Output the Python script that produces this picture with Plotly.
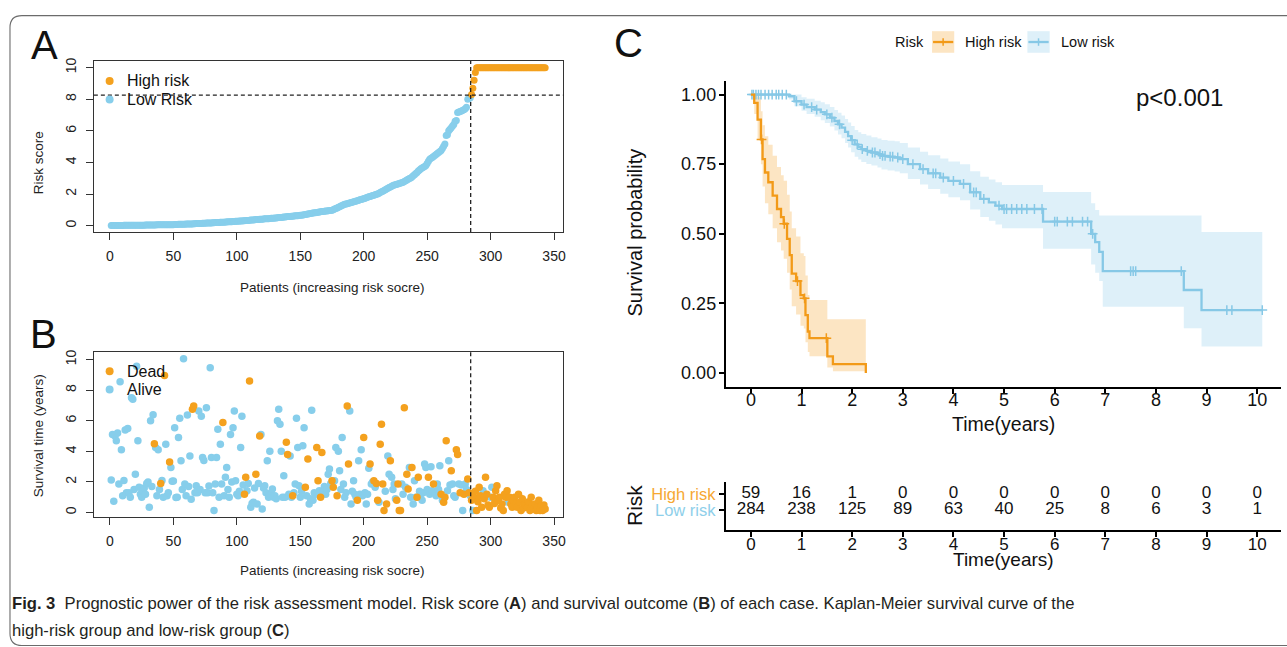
import plotly.graph_objects as go

W, H = 1287, 647
def fx(px): return px / W
def fy(py): return 1 - py / H

FONT = "Liberation Sans, Arial, sans-serif"
CAPFONT = "Liberation Sans Narrow, Arial Narrow, Liberation Sans, sans-serif"
ORANGE = "#F4A11E"
BLUE = "#87CEEB"
KM_OR = "#F29A18"
KM_BL = "#86C8E6"

# ---------------- Panel A: risk score per patient (sorted) ----------------
risk_low = [
    0.00,0.00,0.00,0.01,0.01,0.01,0.01,0.01,0.01,0.01,0.02,0.02,0.02,0.02,0.02,0.02,0.02,0.02,0.03,0.03,
    0.03,0.03,0.03,0.03,0.03,0.03,0.03,0.04,0.04,0.04,0.04,0.04,0.04,0.04,0.04,0.04,0.05,0.05,0.05,0.05,
    0.05,0.05,0.05,0.05,0.05,0.06,0.06,0.06,0.06,0.06,0.07,0.07,0.07,0.08,0.08,0.08,0.09,0.09,0.09,0.10,
    0.10,0.10,0.11,0.11,0.11,0.12,0.12,0.13,0.13,0.13,0.14,0.14,0.15,0.15,0.15,0.16,0.16,0.17,0.17,0.17,
    0.18,0.18,0.19,0.19,0.20,0.20,0.21,0.21,0.22,0.22,0.23,0.23,0.24,0.24,0.25,0.25,0.26,0.26,0.27,0.27,
    0.28,0.29,0.29,0.30,0.31,0.31,0.32,0.33,0.33,0.34,0.35,0.35,0.36,0.37,0.38,0.38,0.39,0.40,0.41,0.41,
    0.42,0.43,0.43,0.44,0.44,0.45,0.46,0.47,0.47,0.48,0.49,0.50,0.51,0.51,0.52,0.53,0.54,0.55,0.56,0.57,
    0.58,0.58,0.59,0.60,0.61,0.62,0.62,0.63,0.64,0.65,0.66,0.68,0.69,0.71,0.72,0.74,0.75,0.77,0.78,0.80,
    0.81,0.82,0.83,0.85,0.86,0.87,0.89,0.90,0.91,0.92,0.93,0.94,0.95,0.96,0.97,1.01,1.05,1.09,1.12,1.16,
    1.20,1.24,1.28,1.32,1.35,1.37,1.39,1.41,1.43,1.46,1.48,1.51,1.53,1.56,1.58,1.60,1.63,1.65,1.68,1.70,
    1.73,1.76,1.79,1.82,1.84,1.87,1.90,1.92,1.95,1.98,2.00,2.05,2.09,2.14,2.18,2.23,2.27,2.32,2.36,2.41,
    2.45,2.50,2.54,2.57,2.59,2.62,2.64,2.67,2.70,2.72,2.75,2.80,2.84,2.89,2.93,2.98,3.02,3.07,3.15,3.22,
    3.30,3.37,3.45,3.52,3.60,3.65,3.70,3.75,3.80,3.93,4.07,4.20,4.26,4.32,4.38,4.44,4.50,4.56,4.63,4.69,
    4.75,4.89,5.03,5.17,5.70,5.75,6.00,6.10,6.20,6.30,6.40,6.60,6.65,7.16,7.20,7.23,7.26,7.30,7.33,7.40,
    7.50,8.00,8.05,8.10,
]
risk_high = [
    8.30,8.70,9.20,9.70,10.0,10.0,10.0,10.0,10.0,10.0,10.0,10.0,10.0,10.0,10.0,10.0,10.0,10.0,10.0,10.0,
    10.0,10.0,10.0,10.0,10.0,10.0,10.0,10.0,10.0,10.0,10.0,10.0,10.0,10.0,10.0,10.0,10.0,10.0,10.0,10.0,
    10.0,10.0,10.0,10.0,10.0,10.0,10.0,10.0,10.0,10.0,10.0,10.0,10.0,10.0,10.0,10.0,10.0,10.0,10.0,
]
risk_cutoff = 8.26
split_index = 284.3

# ---------------- Panel B: survival time and status per patient ----------------
b_time = [
    2.13,5.1,0.74,5.0,4.7,5.2,1.87,8.55,4.1,1.1,
    2.1,5.4,1.3,5.5,1.3,1.0,7.5,7.4,1.5,2.5,
    9.57,4.7,1.65,1.2,1.0,1.4,1.6,1.2,1.9,2.0,
    0.35,6.0,1.7,6.4,4.5,4.25,1.1,4.1,1.5,1.9,
    2.1,1.0,8.96,4.47,1.1,1.3,3.3,2.95,2.04,2.07,
    5.55,0.98,1.0,4.9,6.16,3.38,1.5,10.06,1.87,1.1,
    6.38,1.7,3.7,0.87,6.75,6.96,1.3,1.75,1.3,6.64,
    1.5,6.3,3.6,3.4,1.3,6.85,1.3,1.74,9.46,3.6,
    1.3,0.13,1.87,3.6,5.45,1.0,4.47,1.87,5.88,1.1,
    2.3,2.95,1.5,1.0,5.1,2.0,5.55,6.64,2.08,1.2,
    1.1,1.4,4.25,6.3,1.8,1.2,2.3,1.43,1.9,8.6,
    0.35,0.6,0.67,1.6,2.5,0.56,1.9,5.0,5.1,0.24,
    1.6,1.75,1.3,3.38,1.0,4.0,1.2,1.54,1.0,1.1,
    0.9,6.0,6.75,5.77,4.0,1.0,2.4,1.0,4.6,3.8,
    1.2,3.7,1.0,1.1,1.3,1.87,6.16,4.25,1.76,1.0,
    1.4,4.36,5.55,1.65,1.1,3.5,0.56,0.9,6.68,0.8,
    1.3,1.2,4.25,2.08,1.43,1.0,3.92,1.43,1.7,1.2,
    1.5,2.5,2.85,1.9,2.08,1.65,2.08,4.25,1.1,4.0,
    2.73,1.5,4.9,1.87,1.0,1.3,6.96,3.17,6.64,0.56,
    1.4,2.08,1.2,1.0,0.8,3.38,1.2,4.1,1.1,4.9,
    1.3,0.56,1.2,2.9,3.17,1.87,2.0,2.08,1.65,1.9,
    0.8,0.67,4.47,5.77,1.87,0.13,1.4,0.56,3.7,2.5,
    3.38,2.3,1.5,1.87,0.9,0.8,1.87,0.13,0.13,1.87,
    1.2,6.85,1.65,2.5,1.54,2.95,1.0,2.95,0.56,2.08,
    1.0,1.0,2.3,1.4,1.2,0.8,1.3,3.17,2.95,1.5,
    2.3,1.2,3.0,1.43,1.87,1.3,1.1,1.87,1.5,3.06,
    1.2,0.8,0.67,1.0,4.7,1.43,3.38,1.8,2.73,1.87,
    1.1,1.0,4.1,3.8,1.87,1.3,1.8,0.13,1.2,1.87,
    1.5,2.2,1.3,1.1,0.8,0.13,1.0,1.4,0.13,0.7,
    1.65,1.1,0.35,1.43,0.9,2.3,1.2,0.5,0.35,1.0,
    1.65,1.0,0.6,1.43,1.75,0.8,1.0,0.3,0.56,0.13,
    1.2,1.0,1.43,0.67,1.0,0.56,0.35,0.8,1.0,0.56,
    0.35,1.2,0.67,0.13,0.9,0.3,0.56,0.45,0.35,0.7,
    0.13,1.0,0.5,0.25,0.56,0.13,0.35,0.8,0.13,0.45,
    0.13,0.5,0.24,
]
b_dead = [
    0,0,0,0,0,0,0,0,0,0,
    0,0,0,0,0,0,0,0,0,0,
    0,0,0,0,0,0,0,0,0,0,
    0,0,0,0,1,0,0,0,0,1,
    0,0,1,0,0,0,1,0,0,0,
    0,0,0,0,0,0,0,0,0,0,
    0,0,0,0,1,1,0,0,0,0,
    0,0,0,0,0,0,0,0,0,0,
    0,0,0,0,0,0,0,0,1,0,
    0,0,0,0,0,0,0,0,0,0,
    0,0,0,0,0,1,1,0,0,1,
    0,0,0,0,1,0,0,1,0,0,
    0,0,0,0,0,0,0,0,0,0,
    0,0,0,0,0,0,0,0,1,1,
    0,0,0,1,0,0,0,0,0,0,
    0,0,0,1,0,1,0,0,0,0,
    0,0,1,1,0,1,1,0,0,0,
    0,0,0,0,1,1,0,0,1,0,
    0,0,0,0,0,0,1,1,0,0,
    0,0,0,0,1,0,0,0,0,1,
    0,0,0,0,1,0,0,1,0,1,
    1,0,1,1,1,1,0,1,0,0,
    1,0,0,0,0,1,1,1,1,0,
    0,1,0,1,1,0,0,1,0,0,
    0,1,1,0,0,0,0,0,0,0,
    1,0,0,0,1,0,0,0,0,0,
    1,0,1,1,1,0,0,0,1,0,
    0,0,1,1,0,1,0,0,1,0,
    0,1,1,0,1,0,1,1,1,1,
    1,1,1,0,1,1,1,1,1,0,
    0,1,1,1,1,1,1,1,1,1,
    1,1,1,0,1,1,1,1,1,1,
    1,1,1,1,1,1,1,1,1,1,
    1,1,1,1,1,1,1,1,1,1,
    1,1,1,
]

# ---------------- Panel C: Kaplan-Meier estimates ----------------
hr_t  = [0, 0.066, 0.132, 0.198, 0.231, 0.278, 0.344, 0.430, 0.516, 0.595, 0.648, 0.714, 0.767, 0.807, 0.893, 0.979, 1.045, 1.078, 1.124, 1.157, 1.51, 1.62, 2.27]
hr_s  = [1.0, 0.97, 0.91, 0.839, 0.768, 0.72, 0.685, 0.637, 0.589, 0.56, 0.536, 0.482, 0.423, 0.357, 0.33, 0.28, 0.268, 0.208, 0.149, 0.125, 0.06, 0.032, 0.0]
hr_up = [1.0, 1.0, 0.99, 0.94, 0.89, 0.85, 0.82, 0.78, 0.74, 0.71, 0.69, 0.64, 0.58, 0.52, 0.49, 0.43, 0.42, 0.35, 0.28, 0.262, 0.193, 0.193, 0.193]
hr_lo = [1.0, 0.93, 0.84, 0.75, 0.67, 0.61, 0.57, 0.52, 0.47, 0.44, 0.41, 0.36, 0.30, 0.24, 0.21, 0.17, 0.16, 0.11, 0.075, 0.06, 0.02, 0.006, 0.0]
hr_cens = [0.21, 0.66, 0.92, 1.06, 1.49]

lr_t  = [0, 0.75, 0.86, 1.0, 1.1, 1.26, 1.38, 1.46, 1.56, 1.65, 1.72, 1.79, 1.86, 1.92, 1.98, 2.05, 2.12, 2.18, 2.28, 2.38,
         2.5, 2.58, 2.7, 2.84, 2.94, 3.1, 3.34, 3.5, 3.74, 3.9, 4.13, 4.33, 4.53, 4.7, 4.83, 4.96, 5.77, 6.72, 6.8, 6.88,
         6.95, 8.55, 8.9, 10.1]
lr_s  = [1.0, 0.994, 0.976, 0.964, 0.955, 0.946, 0.937, 0.929, 0.917, 0.905, 0.893, 0.881, 0.866, 0.851, 0.836, 0.821, 0.812, 0.804, 0.798, 0.792,
         0.786, 0.780, 0.777, 0.774, 0.768, 0.750, 0.732, 0.717, 0.702, 0.690, 0.679, 0.649, 0.625, 0.613, 0.601, 0.589, 0.544, 0.50, 0.47, 0.435,
         0.366, 0.298, 0.226, 0.226]
lr_up = [1.0, 1.0, 1.0, 0.99, 0.985, 0.978, 0.972, 0.965, 0.955, 0.945, 0.935, 0.925, 0.912, 0.9, 0.887, 0.873, 0.865, 0.858, 0.853, 0.847,
         0.842, 0.837, 0.834, 0.832, 0.826, 0.81, 0.795, 0.782, 0.77, 0.76, 0.75, 0.725, 0.705, 0.695, 0.685, 0.675, 0.65, 0.61, 0.585, 0.566,
         0.566, 0.566, 0.506, 0.506]
lr_lo = [1.0, 0.982, 0.958, 0.942, 0.93, 0.92, 0.908, 0.898, 0.885, 0.871, 0.857, 0.843, 0.826, 0.81, 0.793, 0.777, 0.767, 0.758, 0.751, 0.745,
         0.738, 0.731, 0.727, 0.724, 0.717, 0.697, 0.677, 0.661, 0.644, 0.631, 0.62, 0.587, 0.56, 0.547, 0.533, 0.52, 0.446, 0.39, 0.36, 0.33,
         0.238, 0.161, 0.095, 0.095]
lr_cens = [0.02, 0.05, 0.1, 0.15, 0.2, 0.28, 0.35, 0.42, 0.5, 0.55, 0.62, 0.7, 0.9, 1.05, 1.2, 1.3, 1.5, 1.6, 1.75, 2.0,
           2.1, 2.2, 2.3, 2.4, 2.45, 2.55, 2.6, 2.65, 2.75, 2.8, 2.9, 3.0, 3.2, 3.4, 3.6, 3.65, 3.8, 4.0, 4.2, 4.4,
           4.45, 4.6, 4.9, 5.0, 5.05, 5.15, 5.25, 5.35, 5.45, 5.6, 5.75, 6.0, 6.05, 6.25, 6.35, 6.55, 6.65, 6.75,
           7.5, 7.55, 7.6, 8.5, 9.4, 9.5, 10.1]

tbl_times = [0, 1, 2, 3, 4, 5, 6, 7, 8, 9, 10]
tbl_high = [59, 16, 1, 0, 0, 0, 0, 0, 0, 0, 0]
tbl_low = [284, 238, 125, 89, 63, 40, 25, 8, 6, 3, 1]


def step_at(ts, ss, t):
    v = ss[0]
    for tk, sk in zip(ts, ss):
        if tk <= t:
            v = sk
    return v


fig = go.Figure()

# ---- Panel A traces ----
n_low = len(risk_low)
fig.add_trace(go.Scatter(x=list(range(1, n_low + 1)), y=risk_low, mode="markers",
                         marker=dict(color=BLUE, size=7), xaxis="x", yaxis="y", showlegend=False))
fig.add_trace(go.Scatter(x=list(range(n_low + 1, n_low + len(risk_high) + 1)), y=risk_high, mode="markers",
                         marker=dict(color=ORANGE, size=7), xaxis="x", yaxis="y", showlegend=False))

# ---- Panel B traces ----
pts = list(zip(range(1, len(b_time) + 1), b_time, b_dead))
alive = [(i, t) for i, t, d in pts if d == 0]
dead = [(i, t) for i, t, d in pts if d == 1]
fig.add_trace(go.Scatter(x=[p[0] for p in alive], y=[p[1] for p in alive], mode="markers",
                         marker=dict(color=BLUE, size=7.5), xaxis="x2", yaxis="y2", showlegend=False))
fig.add_trace(go.Scatter(x=[p[0] for p in dead], y=[p[1] for p in dead], mode="markers",
                         marker=dict(color=ORANGE, size=7.5), xaxis="x2", yaxis="y2", showlegend=False))

# ---- Panel C traces ----
def km_band(ts, up, lo, color, fill):
    fig.add_trace(go.Scatter(x=ts, y=lo, mode="lines", line=dict(width=0, shape="hv", color=color),
                             xaxis="x3", yaxis="y3", showlegend=False, hoverinfo="skip"))
    fig.add_trace(go.Scatter(x=ts, y=up, mode="lines", line=dict(width=0, shape="hv", color=color),
                             fill="tonexty", fillcolor=fill,
                             xaxis="x3", yaxis="y3", showlegend=False, hoverinfo="skip"))

km_band(lr_t, lr_up, lr_lo, KM_BL, "rgba(135,200,232,0.28)")
km_band(hr_t, hr_up, hr_lo, KM_OR, "rgba(244,160,40,0.28)")

for ts, ss, cens, color in [(lr_t, lr_s, lr_cens, KM_BL), (hr_t, hr_s, hr_cens, KM_OR)]:
    fig.add_trace(go.Scatter(x=ts, y=ss, mode="lines", line=dict(width=2.3, shape="hv", color=color),
                             xaxis="x3", yaxis="y3", showlegend=False))
    fig.add_trace(go.Scatter(x=cens, y=[step_at(ts, ss, c) for c in cens], mode="markers",
                             marker=dict(symbol="cross-thin", size=7, line=dict(color=color, width=1.5)),
                             xaxis="x3", yaxis="y3", showlegend=False))

# ---- Risk table ----
fig.add_trace(go.Scatter(x=tbl_times, y=[2] * len(tbl_times), mode="text", text=[str(v) for v in tbl_high],
                         textfont=dict(size=17, color="#111", family=FONT), xaxis="x4", yaxis="y4", showlegend=False))
fig.add_trace(go.Scatter(x=tbl_times, y=[1] * len(tbl_times), mode="text", text=[str(v) for v in tbl_low],
                         textfont=dict(size=17, color="#111", family=FONT), xaxis="x4", yaxis="y4", showlegend=False))

# ---------------- Axes ----------------
base_ab = dict(showline=True, mirror=True, linecolor="#333", linewidth=1.2, ticks="outside", ticklen=7,
               tickcolor="#333", tickwidth=1, showgrid=False, zeroline=False,
               tickfont=dict(size=14, color="#222", family=FONT))
ax_a_x = dict(base_ab, domain=[fx(94), fx(564.3)], range=[-12.7, 357.4], tickvals=list(range(0, 351, 50)),
              anchor="y", ticklabelstandoff=4)
ax_a_y = dict(base_ab, domain=[fy(230), fy(58.3)], range=[-0.4, 10.42], tickvals=list(range(0, 11, 2)),
              anchor="x", tickangle=-90, ticklabelstandoff=4)
ax_b_x = dict(base_ab, domain=[fx(94), fx(564.3)], range=[-12.7, 357.4], tickvals=list(range(0, 351, 50)),
              anchor="y2", ticklabelstandoff=4)
ax_b_y = dict(base_ab, domain=[fy(516.7), fy(351)], range=[-0.31, 10.47], tickvals=list(range(0, 11, 2)),
              anchor="x2", tickangle=-90, ticklabelstandoff=4)

base_c = dict(showline=True, mirror=False, linecolor="#000", linewidth=1.6, ticks="outside", ticklen=5,
              tickcolor="#000", tickwidth=1.5, showgrid=False, zeroline=False,
              tickfont=dict(size=18, color="#111", family=FONT))
c_dom_x = [fx(726.7), fx(1282.5)]
ax_c_x = dict(base_c, domain=c_dom_x, range=[-0.5, 10.46], tickvals=tbl_times, anchor="y3",
              ticklabelstandoff=-9)
ax_c_y = dict(base_c, domain=[fy(385.7), fy(78)], range=[-0.05, 1.05], tickvals=[0, 0.25, 0.5, 0.75, 1.0],
              ticktext=["0.00", "0.25", "0.50", "0.75", "1.00"], anchor="x3", ticklabelstandoff=-1)
ax_t_x = dict(base_c, domain=c_dom_x, range=[-0.5, 10.46], tickvals=tbl_times, anchor="y4",
              ticklabelstandoff=-7, tickfont=dict(size=17, color="#111", family=FONT))
ax_t_y = dict(base_c, domain=[fy(529.3), fy(481.7)], range=[-0.25, 2.725], tickvals=[2, 1],
              ticktext=['<span style="color:#F6A833">High risk</span>', '<span style="color:#8ECFEA">Low risk</span>'],
              tickfont=dict(size=16.5, family=FONT), anchor="x4")

# ---------------- Shapes ----------------
shapes = []
dash_line = dict(color="#222", width=1.3, dash="4px,3px")
shapes.append(dict(type="line", xref="x", yref="y domain", x0=split_index, x1=split_index, y0=0, y1=1, line=dash_line))
shapes.append(dict(type="line", xref="x domain", yref="y", x0=0, x1=1, y0=risk_cutoff, y1=risk_cutoff, line=dash_line))
shapes.append(dict(type="line", xref="x2", yref="y2 domain", x0=split_index, x1=split_index, y0=0, y1=1, line=dash_line))

def dot(cx, cy, color, r=4):
    return dict(type="circle", xref="paper", yref="paper", x0=fx(cx - r), x1=fx(cx + r),
                y0=fy(cy + r), y1=fy(cy - r), fillcolor=color, line=dict(width=0))

shapes += [dot(109.8, 78.3, ORANGE), dot(109.8, 97, BLUE), dot(109.8, 370, ORANGE), dot(109.8, 388.3, BLUE)]

# KM legend keys
for (k0, k1), lc, fc in [((933.5, 955.7), KM_OR, "rgba(244,160,40,0.28)"), ((1029, 1051.3), KM_BL, "rgba(135,200,232,0.28)")]:
    shapes.append(dict(type="rect", xref="paper", yref="paper", x0=fx(k0), x1=fx(k1), y0=fy(50), y1=fy(28.3),
                       fillcolor=fc, line=dict(width=0)))
    shapes.append(dict(type="line", xref="paper", yref="paper", x0=fx(k0 + 1), x1=fx(k1 - 1), y0=fy(39.2), y1=fy(39.2),
                       line=dict(color=lc, width=2.3)))
    mx = (k0 + k1) / 2
    shapes.append(dict(type="line", xref="paper", yref="paper", x0=fx(mx), x1=fx(mx), y0=fy(35.5), y1=fy(43),
                       line=dict(color=lc, width=1.5)))

# rounded outer border
r = 12
bx0, by0, bx1, by1 = 10, 12.7, 1300, 645.5
shapes.append(dict(type="path", xref="paper", yref="paper",
                   path=(f"M {fx(bx0)},{fy(by0 + r)} Q {fx(bx0)},{fy(by0)} {fx(bx0 + r)},{fy(by0)} "
                         f"L {fx(bx1)},{fy(by0)} L {fx(bx1)},{fy(by1)} L {fx(bx0 + r)},{fy(by1)} "
                         f"Q {fx(bx0)},{fy(by1)} {fx(bx0)},{fy(by1 - r)} Z"),
                   line=dict(color="#6b6b6b", width=1.1), fillcolor="rgba(0,0,0,0)"))

# ---------------- Annotations ----------------
def ann(px, py, text, size, color="#000", angle=0, xanchor="center", yanchor="middle", family=FONT):
    return dict(x=fx(px), y=fy(py), xref="paper", yref="paper", text=text, showarrow=False,
                font=dict(size=size, color=color, family=family), textangle=angle,
                xanchor=xanchor, yanchor=yanchor)

anns = [
    ann(45, 42.5, "A", 40, "#111"),
    ann(44, 332.5, "B", 40, "#111"),
    ann(629.5, 40.5, "C", 40, "#111"),
    ann(39.4, 160.6, "Risk score", 13.5, "#222", angle=-90),
    ann(333, 285.7, "Patients (increasing risk socre)", 13.5, "#222"),
    ann(39.4, 435, "Survival time (years)", 13.5, "#222", angle=-90),
    ann(333, 570, "Patients (increasing risk socre)", 13.5, "#222"),
    ann(125.6, 78.3, "High risk", 16, "#111", xanchor="left"),
    ann(125.6, 97, "Low Risk", 16, "#111", xanchor="left"),
    ann(125.6, 370, "Dead", 16, "#111", xanchor="left"),
    ann(125.6, 388.3, "Alive", 16, "#111", xanchor="left"),
    ann(910.8, 39.3, "Risk", 14.5, "#111"),
    ann(964.6, 39.3, "High risk", 14.5, "#111", xanchor="left"),
    ann(1060.2, 39.3, "Low risk", 14.5, "#111", xanchor="left"),
    ann(1181, 95, "p<0.001", 24, "#111"),
    ann(635.6, 231, "Survival probability", 20, "#111", angle=-90),
    ann(1005.5, 422.5, "Time(years)", 19.5, "#111"),
    ann(635.6, 504.7, "Risk", 21, "#111", angle=-90),
    ann(1005.5, 559, "Time(years)", 19, "#111"),
    ann(10, 603, "<b>Fig. 3</b>  Prognostic power of the risk assessment model. Risk score (<b>A</b>) and survival outcome (<b>B</b>) of each case. Kaplan-Meier survival curve of the",
        16.6, "#231f20", xanchor="left", family=CAPFONT),
    ann(10, 630, "high-risk group and low-risk group (<b>C</b>)", 16.6, "#231f20", xanchor="left", family=CAPFONT),
]

fig.update_layout(
    width=W, height=H, margin=dict(l=0, r=0, t=0, b=0),
    paper_bgcolor="white", plot_bgcolor="white", showlegend=False,
    font=dict(family=FONT),
    xaxis=ax_a_x, yaxis=ax_a_y, xaxis2=ax_b_x, yaxis2=ax_b_y,
    xaxis3=ax_c_x, yaxis3=ax_c_y, xaxis4=ax_t_x, yaxis4=ax_t_y,
    shapes=shapes, annotations=anns,
)

fig.write_html("out.html")
